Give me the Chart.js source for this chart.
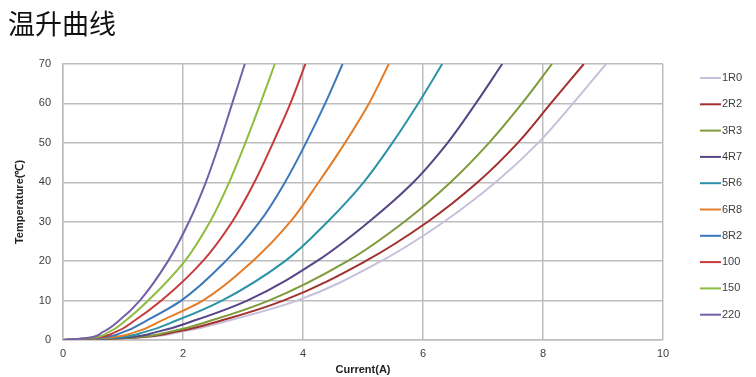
<!DOCTYPE html>
<html>
<head>
<meta charset="utf-8">
<script src="https://cdn.jsdelivr.net/npm/chart.js@4.4.1/dist/chart.umd.min.js"></script>
<style>
  html, body { margin: 0; padding: 0; background: #fff; }
  #wrap { position: relative; width: 756px; height: 377px; }
  #title { position: absolute; left: 8px; top: 9px; font: 27px/1 "Noto Sans CJK SC", sans-serif; color: #111; }
  #chart { position: absolute; left: 0; top: 0; }
</style>
</head>
<body>
<div id="wrap">
  <canvas id="chart" width="756" height="377"></canvas>
  <div id="title">温升曲线</div>
</div>
<script>
// temperature levels (℃) and the current (A) at which each part reaches them
const temps = [0, 0.5, 2, 5, 10, 20, 30, 40, 50, 60, 70];
const labels = ['1R0', '2R2', '3R3', '4R7', '5R6', '6R8', '8R2', '100', '150', '220'];
const cur1R0 = [0, 1.10, 1.95, 2.78, 3.90, 5.30, 6.35, 7.21, 7.92, 8.50, 9.05];
const cur2R2 = [0, 1.05, 1.85, 2.65, 3.67, 5.04, 6.08, 6.91, 7.58, 8.13, 8.68];
const cur3R3 = [0, 1.00, 1.75, 2.48, 3.43, 4.74, 5.69, 6.46, 7.10, 7.65, 8.15];
const cur4R7 = [0, 0.90, 1.55, 2.20, 3.07, 4.23, 5.10, 5.84, 6.41, 6.88, 7.32];
const cur5R6 = [0, 0.78, 1.35, 1.90, 2.65, 3.70, 4.41, 5.01, 5.49, 5.92, 6.32];
const cur6R8 = [0, 0.68, 1.20, 1.65, 2.33, 3.16, 3.79, 4.26, 4.70, 5.10, 5.43];
const cur8R2 = [0, 0.58, 1.00, 1.40, 1.97, 2.71, 3.28, 3.70, 4.05, 4.37, 4.66];
const cur100 = [0, 0.50, 0.87, 1.20, 1.64, 2.33, 2.82, 3.19, 3.50, 3.79, 4.04];
const cur150 = [0, 0.45, 0.76, 1.05, 1.42, 2.03, 2.45, 2.77, 3.04, 3.29, 3.53];
const cur220 = [0, 0.40, 0.66, 0.94, 1.28, 1.75, 2.10, 2.38, 2.61, 2.82, 3.03];
const xTicks = [0, 2, 4, 6, 8, 10];
const yTicks = [0, 10, 20, 30, 40, 50, 60, 70];

const currents = [cur1R0, cur2R2, cur3R3, cur4R7, cur5R6, cur6R8, cur8R2, cur100, cur150, cur220];
const colors = ['#c6c0da', '#a2302e', '#7f9a3a', '#574585', '#2b93a6', '#e27d2a', '#3b78b9', '#c63a3c', '#8cbd3f', '#7460a8'];

const datasets = labels.map((name, k) => ({
    label: name,
    data: currents[k].map((c, i) => ({ x: c, y: temps[i] })),
    borderColor: colors[k],
    borderWidth: 2,
    pointRadius: 0,
    fill: false,
    cubicInterpolationMode: 'monotone'
}));
datasets.reverse();

const legendLines = {
    id: 'legendLines',
    afterDraw(chart) {
        const ctx = chart.ctx;
        ctx.save();
        ctx.font = '11px "Liberation Sans", Arial, sans-serif';
        ctx.textBaseline = 'middle';
        labels.forEach((name, k) => {
            const y = 78 + k * 26.3;
            ctx.strokeStyle = colors[k];
            ctx.lineWidth = 2;
            ctx.beginPath();
            ctx.moveTo(700, y);
            ctx.lineTo(721, y);
            ctx.stroke();
            ctx.fillStyle = '#404040';
            ctx.fillText(name, 722, y);
        });
        ctx.restore();
    }
};

new Chart(document.getElementById('chart'), {
    type: 'line',
    data: { datasets: datasets },
    options: {
        indexAxis: 'y', // interpolate along temperature so curves stay smooth
        responsive: false,
        animation: false,
        layout: { padding: { top: 64, right: 93, left: 0, bottom: 0 } },
        plugins: { legend: { display: false }, tooltip: { enabled: false } },
        scales: {
            x: {
                type: 'linear',
                position: 'bottom',
                min: 0, max: 10,
                afterBuildTicks: s => { s.ticks = xTicks.map(v => ({ value: v })); },
                afterFit: s => { s.height = 37; },
                grid: { color: '#bdbdbd', lineWidth: 1.5, drawTicks: false },
                border: { color: '#bdbdbd', width: 1.5 },
                ticks: { color: '#404040', padding: 7, font: { size: 11, family: '"Liberation Sans", Arial' } },
                title: { display: true, text: 'Current(A)', color: '#222', padding: { top: 0, bottom: 0 },
                    font: { size: 11, weight: 'bold', family: '"Liberation Sans", Arial' } }
            },
            y: {
                type: 'linear',
                position: 'left',
                min: 0, max: 70,
                afterBuildTicks: s => { s.ticks = yTicks.map(v => ({ value: v })); },
                afterFit: s => { s.width = 63; },
                grid: { color: '#bdbdbd', lineWidth: 1.5, drawTicks: false },
                border: { color: '#bdbdbd', width: 1.5 },
                ticks: { color: '#404040', padding: 12, font: { size: 11, family: '"Liberation Sans", Arial' } },
                title: { display: true, text: 'Temperature(℃)', color: '#222', padding: { top: 13, bottom: 0 },
                    font: { size: 11, weight: 'bold', family: '"Liberation Sans", Arial' } }
            }
        }
    },
    plugins: [legendLines]
});
</script>
</body>
</html>
